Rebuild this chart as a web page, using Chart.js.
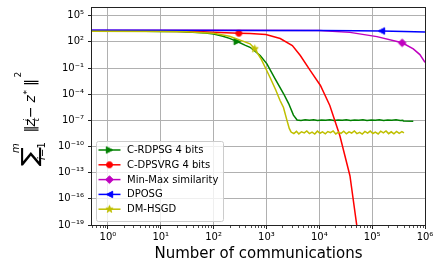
<!DOCTYPE html>
<html>
<head>
<meta charset="utf-8">
<script src="https://cdn.jsdelivr.net/npm/chart.js@4.4.0/dist/chart.umd.min.js"></script>
<style>
  html, body { margin: 0; padding: 0; background: #fff; }
</style>
</head>
<body>
<canvas id="chart" width="442" height="271"></canvas>
<script>
// === Data ===
const seriesLabels = ['C-RDPSG 4 bits', 'C-DPSVRG 4 bits', 'Min-Max similarity', 'DPOSG', 'DM-HSGD'];
const seriesColors = ['#008000', '#ff0000', '#bf00bf', '#0000ff', '#bfbf00'];
const seriesMarkers = ['triRight', 'circle', 'diamond', 'triLeft', 'star'];
const markerX = [280, 300, 370000, 150000, 600];

const rdpsgX = [0.5, 2, 5, 10, 20, 40, 70, 100, 150, 200, 280, 400, 490, 760, 1020, 1450, 2100, 2630, 3240,
  3800, 4500, 5400, 6500, 7800, 9300, 11000, 13200, 15800, 19000, 22700, 27200, 32500, 39000, 46500, 55800,
  66800, 80000, 95800, 115000, 137000, 165000, 197000, 236000, 283000, 340000, 380000, 390000, 600000];
const rdpsgY = [1650, 1640, 1620, 1580, 1500, 1300, 1050, 800, 450, 250, 110, 40, 24, 2.8, 0.3, 0.006, 1.2e-4, 8.5e-6, 4e-7,
  1.1e-7, 0.95e-7, 1.15e-7, 1.0e-7, 1.2e-7, 0.95e-7, 1.1e-7, 1.0e-7, 1.18e-7, 0.97e-7, 1.12e-7, 1.0e-7, 1.2e-7, 0.96e-7, 1.1e-7, 1.02e-7,
  1.17e-7, 0.95e-7, 1.12e-7, 1.0e-7, 1.19e-7, 0.97e-7, 1.1e-7, 1.0e-7, 1.15e-7, 0.98e-7, 1.05e-7, 0.82e-7, 0.8e-7];

const dpsvrgX = [0.5, 10, 50, 100, 300, 490, 977, 1820, 3090, 4370, 6760, 10500, 15800, 24500, 38000, 51300, 58000];
const dpsvrgY = [1650, 1620, 1500, 1300, 980, 900, 690, 240, 38, 2.7, 0.05, 1e-3, 5e-6, 1.7e-9, 4.5e-14, 8e-20, 1e-21];

const minmaxX = [0.5, 100, 10000, 38000, 123000, 370000, 600000, 800000, 1000000];
const minmaxY = [2100, 2100, 2080, 1230, 400, 78, 16, 3.5, 0.44];

const dposgX = [0.5, 1000, 10000, 50000, 150000, 400000, 1000000];
const dposgY = [2100, 2080, 2000, 1900, 1780, 1550, 1380];

const dmhsgdX = [0.5, 10, 30, 100, 200, 300, 490, 600, 800, 1000, 1200, 1500, 1800, 2100, 2400, 2700, 2900,
  3000, 3300, 3700, 4100, 4600, 5200, 5800, 6500, 7300, 8200, 9200, 10300, 11500, 13000, 14500, 16300, 18300,
  20500, 23000, 25800, 29000, 32500, 36500, 41000, 46000, 51500, 58000, 65000, 73000, 82000, 92000, 103000,
  115000, 130000, 145000, 163000, 183000, 205000, 230000, 258000, 290000, 325000, 365000, 400000];
const dmhsgdY = [1650, 1600, 1450, 950, 450, 180, 60, 16, 1, 0.06, 0.006, 3e-4, 2e-5, 3e-6, 1.5e-7, 1.2e-8, 5e-9,
  4.2e-9, 3.1e-9, 5.5e-9, 2.8e-9, 4.9e-9, 3.6e-9, 6.0e-9, 3.0e-9, 4.4e-9, 2.7e-9, 5.8e-9, 3.3e-9, 4.7e-9, 2.9e-9,
  5.2e-9, 3.8e-9, 6.1e-9, 2.8e-9, 4.5e-9, 3.2e-9, 5.6e-9, 2.9e-9, 4.8e-9, 3.5e-9, 6.0e-9, 3.0e-9, 4.3e-9, 2.7e-9,
  5.4e-9, 3.4e-9, 5.9e-9, 3.1e-9, 4.6e-9, 2.8e-9, 5.7e-9, 3.6e-9, 6.2e-9, 3.0e-9, 4.9e-9, 2.9e-9, 5.5e-9, 3.3e-9, 5.0e-9, 3.6e-9];

const xTicks = [1, 10, 100, 1000, 10000, 100000, 1000000];
const xTickLabels = ['10⁰', '10¹', '10²', '10³', '10⁴', '10⁵', '10⁶'];
const yTicks = [1e-19, 1e-16, 1e-13, 1e-10, 1e-7, 1e-4, 1e-1, 1e2, 1e5];
const yTickLabels = ['10⁻¹⁹', '10⁻¹⁶', '10⁻¹³', '10⁻¹⁰', '10⁻⁷', '10⁻⁴', '10⁻¹', '10²', '10⁵'];

const FONT = "'DejaVu Sans'";

// === Helpers ===
function makeMarker(shape, color) {
    const c = document.createElement('canvas');
    c.width = 11;
    c.height = 11;
    const g = c.getContext('2d');
    g.fillStyle = color;
    g.strokeStyle = color;
    g.lineWidth = 1;
    g.translate(5.5, 5.5);
    g.beginPath();
    const s = 3.2;
    if (shape === 'triRight') {
        g.moveTo(s, 0); g.lineTo(-s, -s); g.lineTo(-s, s);
    } else if (shape === 'triLeft') {
        g.moveTo(-s, 0); g.lineTo(s, -s); g.lineTo(s, s);
    } else if (shape === 'circle') {
        g.arc(0, 0, 3, 0, 2 * Math.PI);
    } else if (shape === 'diamond') {
        g.moveTo(0, -3.8); g.lineTo(3.8, 0); g.lineTo(0, 3.8); g.lineTo(-3.8, 0);
    } else if (shape === 'star') {
        for (let i = 0; i < 10; i++) {
            const r = i % 2 ? 1.5 : 3.8;
            const a = -Math.PI / 2 + i * Math.PI / 5;
            g.lineTo(r * Math.cos(a), r * Math.sin(a));
        }
    }
    g.closePath();
    g.fill();
    g.stroke();
    return c;
}

const markerImgs = seriesMarkers.map((m, i) => makeMarker(m, seriesColors[i]));

function toPoints(xs, ys) {
    return xs.map((x, i) => ({ x, y: ys[i] }));
}

const allX = [rdpsgX, dpsvrgX, minmaxX, dposgX, dmhsgdX];
const allY = [rdpsgY, dpsvrgY, minmaxY, dposgY, dmhsgdY];

const datasets = seriesLabels.map((label, i) => ({
    label,
    data: toPoints(allX[i], allY[i]),
    borderColor: seriesColors[i],
    backgroundColor: seriesColors[i],
    borderWidth: 1.5,
    tension: 0,
    pointStyle: markerImgs[i],
    pointRadius: ctx => (ctx.raw && ctx.raw.x === markerX[i]) ? 4 : 0,
    order: seriesLabels.length - 1 - i
}));

// frame, minor ticks, y label and legend
const decorPlugin = {
    id: 'decorPlugin',
    afterDatasetsDraw(chart) {
        const { ctx, chartArea: a } = chart;
        ctx.save();
        ctx.strokeStyle = '#222';
        ctx.lineWidth = 1;
        ctx.strokeRect(a.left - 0.5, a.top + 0.5, a.right - a.left + 1, a.bottom - a.top);
        ctx.restore();
    },
    afterDraw(chart) {
        const { ctx, chartArea: a } = chart;
        const xs = chart.scales.x;

        // minor x ticks
        ctx.save();
        ctx.strokeStyle = '#222';
        ctx.lineWidth = 0.8;
        for (let k = -1; k <= 5; k++) {
            for (let m = 2; m <= 9; m++) {
                const v = m * Math.pow(10, k);
                if (v < 0.5 || v > 1e6) continue;
                const px = Math.round(xs.getPixelForValue(v)) + 0.5;
                ctx.beginPath();
                ctx.moveTo(px, a.bottom + 0.5);
                ctx.lineTo(px, a.bottom + 3);
                ctx.stroke();
            }
        }
        ctx.restore();

        drawYLabel(ctx);
        drawLegend(ctx);
    }
};

function drawYLabel(ctx) {
    const B = 36, S = 166;
    const pieces = [
        ['∑', '22px ' + FONT, 0, 0.5, 1.3],
        ['m', 'italic 10px ' + FONT, 13, -17.5, 1],
        ['i', 'italic 10px ' + FONT, 6, 8.5, 1],
        ['=1', '10px ' + FONT, 9, 8.5, 1],
        ['‖', '14px ' + FONT, 33.5, -1, 1],
        ['z', 'italic 14px ' + FONT, 39.5, -1, 1],
        ['i', 'italic 9px ' + FONT, 44.5, -6.5, 1],
        ['t', 'italic 9px ' + FONT, 44.5, 2.5, 1],
        ['−', '14px ' + FONT, 48, -1, 1],
        ['z', 'italic 14px ' + FONT, 63.5, -1, 1],
        ['*', '9px ' + FONT, 71.5, -6.5, 1],
        ['‖', '14px ' + FONT, 80, -1, 1],
        ['2', '9px ' + FONT, 88.5, -15, 1]
    ];
    ctx.save();
    ctx.translate(B, S);
    ctx.rotate(-Math.PI / 2);
    ctx.fillStyle = '#000';
    ctx.textBaseline = 'alphabetic';
    ctx.textAlign = 'left';
    pieces.forEach(([t, f, u, v, sx]) => {
        ctx.save();
        ctx.font = f;
        ctx.translate(u, v);
        ctx.scale(sx, 1);
        ctx.fillText(t, 0, 0);
        ctx.restore();
    });
    ctx.restore();
}

function drawLegend(ctx) {
    const bx = 96.5, by = 141.5, bw = 127, bh = 80;
    ctx.save();
    ctx.fillStyle = 'rgba(255,255,255,0.8)';
    ctx.strokeStyle = '#cccccc';
    ctx.lineWidth = 1;
    ctx.beginPath();
    ctx.roundRect(bx, by, bw, bh, 2);
    ctx.fill();
    ctx.stroke();

    ctx.font = '10px ' + FONT;
    ctx.textBaseline = 'middle';
    ctx.textAlign = 'left';
    seriesLabels.forEach((label, i) => {
        const y = 150 + i * 14.8;
        ctx.strokeStyle = seriesColors[i];
        ctx.lineWidth = 1.5;
        ctx.beginPath();
        ctx.moveTo(98.5, y);
        ctx.lineTo(120.5, y);
        ctx.stroke();
        ctx.drawImage(markerImgs[i], 109.5 - 5.5, y - 5.5);
        ctx.fillStyle = '#000';
        ctx.fillText(label, 127, y + 0.5);
    });
    ctx.restore();
}

// === Chart ===
const chart = new Chart(document.getElementById('chart').getContext('2d'), {
    type: 'line',
    data: { datasets },
    options: {
        responsive: false,
        animation: false,
        events: [],
        layout: { padding: { left: 0, right: 17, top: 7, bottom: 0 } },
        scales: {
            x: {
                type: 'logarithmic',
                min: 0.5,
                max: 1e6,
                afterBuildTicks: scale => { scale.ticks = xTicks.map(v => ({ value: v })); },
                afterFit: scale => {
                    scale.height = 46;
                    scale.paddingLeft = 0;
                    scale.paddingRight = 0;
                },
                ticks: {
                    autoSkip: false,
                    maxRotation: 0,
                    padding: 2,
                    color: '#000',
                    font: { family: FONT, size: 10 },
                    callback: (v, i) => xTickLabels[i]
                },
                grid: { color: '#b0b0b0', lineWidth: 1, tickLength: 4, tickColor: '#222' },
                border: { display: false },
                title: {
                    display: true,
                    text: 'Number of communications',
                    color: '#000',
                    font: { family: FONT, size: 15 },
                    padding: { top: 0, bottom: 8 }
                }
            },
            y: {
                type: 'logarithmic',
                min: 1e-19,
                max: 1e6,
                afterBuildTicks: scale => { scale.ticks = yTicks.map(v => ({ value: v })); },
                afterFit: scale => {
                    scale.width = 92;
                    scale.paddingTop = 0;
                    scale.paddingBottom = 0;
                },
                ticks: {
                    autoSkip: false,
                    padding: 4,
                    color: '#000',
                    font: { family: FONT, size: 10 },
                    callback: (v, i) => yTickLabels[i]
                },
                grid: { color: '#b0b0b0', lineWidth: 1, tickLength: 4, tickColor: '#222' },
                border: { display: false }
            }
        },
        plugins: {
            legend: { display: false },
            tooltip: { enabled: false }
        }
    },
    plugins: [decorPlugin]
});
</script>
</body>
</html>
